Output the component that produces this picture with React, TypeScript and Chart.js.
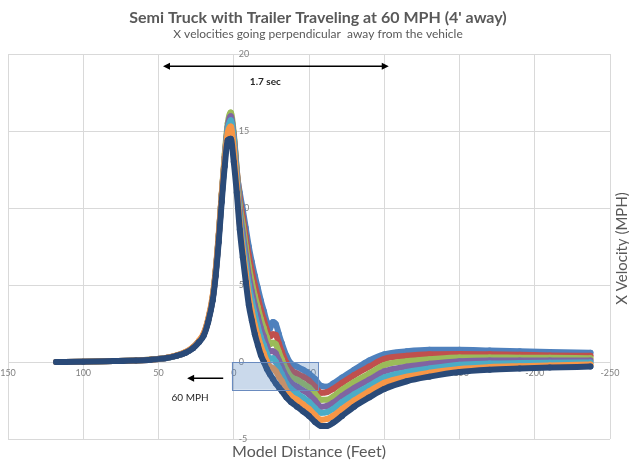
import React, { useEffect, useRef } from "react";
import { Chart, registerables } from "chart.js";

Chart.register(...registerables);

const TITLE = "Semi Truck with Trailer Traveling at 60 MPH (4' away)";
const SUBTITLE = "X velocities going perpendicular  away from the vehicle";
const X_AXIS_TITLE = "Model Distance (Feet)";
const Y_AXIS_TITLE = "X Velocity (MPH)";

// Model distance (feet) shared by all runs
const distanceFeet = [
  118, 100, 80, 65, 55, 45, 38, 32, 27, 23, 20, 17, 14, 12, 10, 8, 6, 4, 2, 0,
  -2, -4, -6, -8, -10, -12, -14, -16, -18, -20, -22, -24, -26, -28, -30, -32, -35, -38, -42, -46,
  -50, -54, -58, -62, -66, -72, -80, -90, -100, -115, -130, -150, -170, -190, -210, -237,
];

// X velocity (MPH) per run
const velocityBlue = [
  0, 0.02, 0.06, 0.1, 0.15, 0.26, 0.41, 0.62, 0.93, 1.35, 1.78, 2.7, 4.1, 5.8, 8.0, 10.7, 13.1, 14.9, 15.6, 14.4,
  12.3, 11.0, 9.9, 8.7, 7.5, 6.5, 5.6, 4.8, 4.0, 3.3, 2.6, 2.15, 2.6, 2.45, 1.8, 1.2, 0.4, -0.1, -0.3, -0.5,
  -0.75, -1.1, -1.55, -1.6, -1.4, -1.0, -0.5, 0.1, 0.5, 0.7, 0.8, 0.8, 0.75, 0.7, 0.65, 0.6,
];
const velocityRed = [
  0, 0.02, 0.06, 0.1, 0.15, 0.26, 0.41, 0.62, 0.93, 1.35, 1.78, 2.7, 4.1, 5.8, 8.1, 10.8, 13.3, 15.2, 15.9, 14.7,
  12.5, 10.6, 9.4, 8.1, 6.9, 5.9, 5.0, 4.2, 3.4, 2.75, 2.1, 1.65, 1.8, 1.75, 1.2, 0.65, -0.05, -0.5, -0.75, -0.95,
  -1.2, -1.6, -2.0, -1.95, -1.75, -1.35, -0.85, -0.3, 0.2, 0.4, 0.5, 0.52, 0.5, 0.47, 0.43, 0.4,
];
const velocityGreen = [
  0, 0.02, 0.06, 0.1, 0.15, 0.26, 0.41, 0.62, 0.93, 1.35, 1.78, 2.7, 4.15, 5.85, 8.15, 10.9, 13.5, 15.5, 16.2, 14.9,
  12.5, 10.2, 8.9, 7.5, 6.2, 5.2, 4.3, 3.55, 2.8, 2.2, 1.6, 1.15, 1.25, 1.15, 0.65, 0.15, -0.5, -0.95, -1.15, -1.4,
  -1.65, -2.05, -2.45, -2.45, -2.25, -1.8, -1.3, -0.75, -0.2, 0.05, 0.18, 0.3, 0.3, 0.28, 0.27, 0.25,
];
const velocityPurple = [
  0, 0.02, 0.06, 0.1, 0.15, 0.26, 0.41, 0.62, 0.93, 1.35, 1.78, 2.7, 4.15, 5.85, 8.15, 10.8, 13.3, 15.3, 15.95, 14.7,
  12.3, 9.8, 8.35, 6.95, 5.6, 4.6, 3.7, 2.95, 2.2, 1.65, 1.05, 0.7, 0.7, 0.55, 0.1, -0.35, -0.95, -1.35, -1.6, -1.85,
  -2.1, -2.5, -2.9, -2.85, -2.65, -2.2, -1.7, -1.15, -0.6, -0.3, -0.12, 0.05, 0.1, 0.1, 0.1, 0.1,
];
const velocityCyan = [
  0, 0.02, 0.06, 0.1, 0.16, 0.26, 0.42, 0.63, 0.95, 1.37, 1.8, 2.75, 4.2, 5.9, 8.2, 10.8, 13.2, 15.1, 15.7, 14.4,
  12.0, 9.4, 7.8, 6.4, 5.0, 4.0, 3.1, 2.3, 1.6, 1.1, 0.55, 0.2, 0.25, 0.0, -0.4, -0.8, -1.4, -1.75, -2.05, -2.3,
  -2.6, -3.0, -3.3, -3.25, -3.05, -2.6, -2.1, -1.55, -1.0, -0.65, -0.42, -0.18, -0.1, -0.07, -0.05, -0.03,
];
const velocityOrange = [
  0, 0.02, 0.06, 0.1, 0.16, 0.27, 0.43, 0.65, 0.97, 1.4, 1.85, 2.8, 4.3, 6.0, 8.3, 10.9, 13.2, 14.9, 15.3, 13.9,
  11.6, 9.0, 7.3, 5.8, 4.3, 3.3, 2.4, 1.7, 1.05, 0.55, 0.05, -0.3, -0.4, -0.6, -0.95, -1.25, -1.85, -2.2, -2.45, -2.75,
  -3.05, -3.45, -3.75, -3.7, -3.5, -3.05, -2.5, -1.9, -1.35, -0.95, -0.7, -0.45, -0.33, -0.27, -0.22, -0.17,
];
const velocityNavy = [
  0, 0.02, 0.06, 0.1, 0.15, 0.25, 0.4, 0.6, 0.9, 1.3, 1.7, 2.6, 4.0, 5.6, 7.8, 10.4, 12.7, 14.4, 14.5, 13.0,
  11.0, 8.6, 6.8, 5.2, 3.7, 2.7, 1.8, 1.1, 0.45, 0.0, -0.45, -0.8, -1.1, -1.4, -1.65, -1.9, -2.3, -2.6, -2.9, -3.2,
  -3.5, -3.9, -4.15, -4.15, -3.95, -3.5, -2.9, -2.3, -1.75, -1.25, -0.95, -0.65, -0.5, -0.42, -0.36, -0.3,
];

const X_TICKS = [150, 100, 50, 0, -50, -100, -150, -200, -250];
const Y_TICKS = [-5, 0, 5, 10, 15, 20];

// Annotation anchors in data units
const SPAN_ARROW = { from: 47, to: -103, at: 19.2, label: "1.7 sec", labelX: -21, labelY: 18.2 };
const SPEED_ARROW = { tail: 7, head: 31, at: -1.05, label: "60 MPH", labelX: 29, labelY: -2.3 };
const HIGHLIGHT_BOX = { x1: 1.3, x2: -56, y1: 0, y2: -1.8 };

const SERIES = [
  { data: velocityNavy, color: "#2A4A78" },
  { data: velocityOrange, color: "#F79646" },
  { data: velocityCyan, color: "#4BACC6" },
  { data: velocityPurple, color: "#8064A2" },
  { data: velocityGreen, color: "#9BBB59" },
  { data: velocityRed, color: "#C0504D" },
  { data: velocityBlue, color: "#4F81BD" },
];

function head(ctx: CanvasRenderingContext2D, tip: number, y: number, dir: number) {
  ctx.beginPath();
  ctx.moveTo(tip, y);
  ctx.lineTo(tip - dir * 7, y - 3.5);
  ctx.lineTo(tip - dir * 7, y + 3.5);
  ctx.closePath();
  ctx.fill();
}

const overlayPlugin = {
  id: "overlay",
  beforeDatasetsDraw(chart: any) {
    const { ctx, scales } = chart;
    const xs = scales.x;
    const ys = scales.y;
    ctx.save();
    ctx.font = "9px Lato";
    ctx.fillStyle = "#808080";
    const x0 = xs.getPixelForValue(0);
    ctx.textAlign = "left";
    ctx.textBaseline = "middle";
    ys.ticks.forEach((t: any) => ctx.fillText(String(t.value), x0 + 5, ys.getPixelForValue(t.value)));
    const y0 = ys.getPixelForValue(0);
    ctx.textAlign = "center";
    xs.ticks.forEach((t: any) => ctx.fillText(String(t.value), xs.getPixelForValue(t.value), y0 + 11));
    ctx.restore();
  },
  afterDatasetsDraw(chart: any) {
    const { ctx, scales, chartArea } = chart;
    const xs = scales.x;
    const ys = scales.y;
    ctx.save();
    // highlight box
    const bx1 = xs.getPixelForValue(HIGHLIGHT_BOX.x1);
    const bx2 = xs.getPixelForValue(HIGHLIGHT_BOX.x2);
    const by1 = ys.getPixelForValue(HIGHLIGHT_BOX.y1);
    const by2 = ys.getPixelForValue(HIGHLIGHT_BOX.y2);
    ctx.fillStyle = "rgba(79,129,189,0.3)";
    ctx.fillRect(bx1, by1, bx2 - bx1, by2 - by1);
    ctx.strokeStyle = "#6A8BBF";
    ctx.lineWidth = 1;
    ctx.strokeRect(Math.round(bx1) + 0.5, Math.round(by1) + 0.5, Math.round(bx2 - bx1), Math.round(by2 - by1));

    // span arrow
    ctx.strokeStyle = "#000";
    ctx.fillStyle = "#000";
    ctx.lineWidth = 1.5;
    const ax1 = xs.getPixelForValue(SPAN_ARROW.from);
    const ax2 = xs.getPixelForValue(SPAN_ARROW.to);
    const ay = ys.getPixelForValue(SPAN_ARROW.at);
    ctx.beginPath();
    ctx.moveTo(ax1 + 4, ay);
    ctx.lineTo(ax2 - 4, ay);
    ctx.stroke();
    head(ctx, ax1, ay, -1);
    head(ctx, ax2, ay, 1);

    // speed arrow
    const sx1 = xs.getPixelForValue(SPEED_ARROW.tail);
    const sx2 = xs.getPixelForValue(SPEED_ARROW.head);
    const sy = ys.getPixelForValue(SPEED_ARROW.at);
    ctx.beginPath();
    ctx.moveTo(sx1, sy);
    ctx.lineTo(sx2 + 4, sy);
    ctx.stroke();
    head(ctx, sx2, sy, -1);

    ctx.fillStyle = "#262626";
    ctx.textAlign = "center";
    ctx.textBaseline = "middle";
    ctx.font = "bold 10px Lato";
    ctx.fillText(SPAN_ARROW.label, xs.getPixelForValue(SPAN_ARROW.labelX), ys.getPixelForValue(SPAN_ARROW.labelY));
    ctx.font = "10px Lato";
    ctx.fillText(SPEED_ARROW.label, xs.getPixelForValue(SPEED_ARROW.labelX), ys.getPixelForValue(SPEED_ARROW.labelY));

    // axis titles
    ctx.fillStyle = "#595959";
    ctx.font = "16px Lato";
    ctx.fillText(X_AXIS_TITLE, (chartArea.left + chartArea.right) / 2, chartArea.bottom + 13);
    ctx.font = "15px Lato";
    ctx.translate(chartArea.right + 12, (chartArea.top + chartArea.bottom) / 2 + 2);
    ctx.rotate(-Math.PI / 2);
    ctx.fillText(Y_AXIS_TITLE, 0, 0);
    ctx.restore();
  },
};

export default function App() {
  const ref = useRef<HTMLCanvasElement | null>(null);
  useEffect(() => {
    if (!ref.current) return;
    const chart = new Chart(ref.current, {
      type: "line",
      data: {
        datasets: SERIES.map((s, i) => ({
          label: "Run " + (7 - i),
          data: distanceFeet.map((x, k) => ({ x, y: s.data[k] })),
          borderColor: s.color,
          backgroundColor: s.color,
          pointBackgroundColor: s.color,
          pointBorderWidth: 0,
          pointRadius: 3,
          borderWidth: 6,
          borderJoinStyle: "round",
          borderCapStyle: "round",
          cubicInterpolationMode: "monotone",
          fill: false,
        })),
      },
      options: {
        animation: false,
        responsive: false,
        events: [],
        layout: { padding: { left: 8, right: 1, top: 0, bottom: 24 } },
        plugins: {
          legend: { display: false },
          tooltip: { enabled: false },
          title: {
            display: true,
            text: TITLE,
            color: "#595959",
            font: { family: "Lato", size: 16, weight: "bold" },
            padding: { top: 8, bottom: 0 },
          },
          subtitle: {
            display: true,
            text: SUBTITLE,
            color: "#595959",
            font: { family: "Lato", size: 12 },
            padding: { top: 0, bottom: 12.4 },
          },
        },
        scales: {
          x: {
            type: "linear",
            min: -250,
            max: 150,
            reverse: true,
            afterBuildTicks: (s: any) => {
              s.ticks = X_TICKS.map((v) => ({ value: v }));
            },
            ticks: { display: false },
            grid: { color: "#D9D9D9", lineWidth: 1, drawTicks: false },
            border: { display: false },
          },
          y: {
            type: "linear",
            min: -5,
            max: 20,
            afterBuildTicks: (s: any) => {
              s.ticks = Y_TICKS.map((v) => ({ value: v }));
            },
            ticks: { display: false },
            grid: { color: "#D9D9D9", lineWidth: 1, drawTicks: false },
            border: { display: false },
          },
          titleGutter: {
            type: "linear",
            position: "right",
            min: -5,
            max: 20,
            afterFit: (s: any) => {
              s.width = 18;
            },
            ticks: { display: false },
            grid: { display: false, drawTicks: false },
            border: { display: false },
          },
        },
      },
      plugins: [overlayPlugin],
    });
    return () => chart.destroy();
  }, []);
  return (
    <div style={{ position: "fixed", left: 0, top: 0, width: 629, height: 463, background: "#fff" }}>
      <canvas ref={ref} width={629} height={463} style={{ display: "block" }} />
    </div>
  );
}
